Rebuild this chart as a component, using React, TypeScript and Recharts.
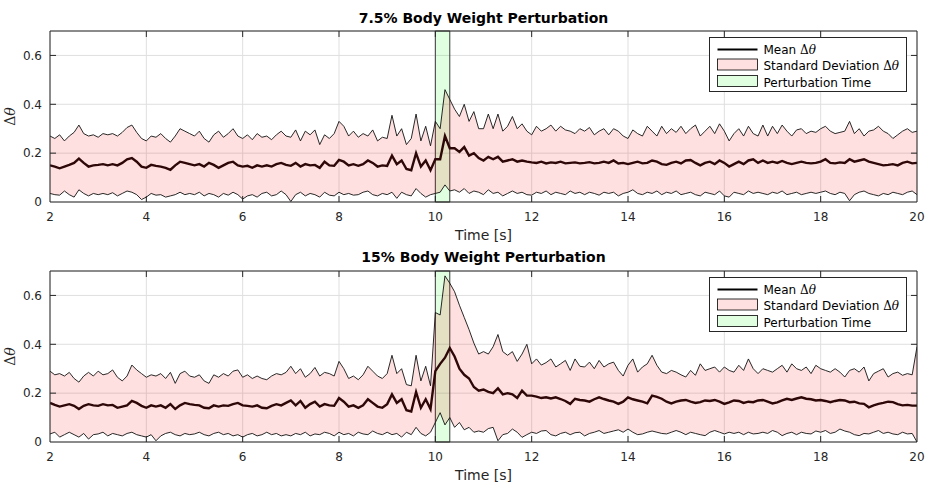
import React from 'react';
import {
  ComposedChart,
  Area,
  Line,
  XAxis,
  YAxis,
  CartesianGrid,
  ReferenceArea,
  ReferenceLine,
} from 'recharts';

// ---------- data ----------
const X_TICKS = [2, 4, 6, 8, 10, 12, 14, 16, 18, 20];
const Y_TICKS = [0, 0.2, 0.4, 0.6];
const PERTURBATION = [10, 10.3];
const TITLES = ['7.5% Body Weight Perturbation', '15% Body Weight Perturbation'];
const X_LABEL = 'Time [s]';
const LEGEND_LABELS = ['Mean ', 'Standard Deviation ', 'Perturbation Time'];

// sample times: 2.0 s to 20.0 s, one sample every 0.1 s
const T: number[] = Array.from({ length: 181 }, (_, i) => Math.round(20 + i) / 10);

// 7.5 % body weight — upper edge (mean + sd)
const HI_75 = [
  0.27, 0.26, 0.275, 0.25, 0.27, 0.285, 0.315, 0.28, 0.27, 0.275,
  0.265, 0.28, 0.275, 0.28, 0.27, 0.285, 0.305, 0.315, 0.285, 0.26,
  0.25, 0.27, 0.265, 0.28, 0.26, 0.245, 0.27, 0.30, 0.29, 0.28,
  0.27, 0.29, 0.26, 0.245, 0.275, 0.29, 0.265, 0.28, 0.30, 0.27,
  0.26, 0.275, 0.255, 0.28, 0.265, 0.27, 0.255, 0.275, 0.29, 0.27,
  0.265, 0.295, 0.25, 0.29, 0.275, 0.295, 0.235, 0.275, 0.26, 0.28,
  0.33, 0.31, 0.27, 0.29, 0.265, 0.28, 0.27, 0.295, 0.25, 0.265,
  0.26, 0.355, 0.27, 0.30, 0.235, 0.26, 0.36, 0.25, 0.31, 0.23,
  0.33, 0.30, 0.46, 0.42, 0.38, 0.35, 0.40, 0.33, 0.37, 0.30,
  0.30, 0.36, 0.30, 0.36, 0.29, 0.31, 0.35, 0.30, 0.32, 0.29,
  0.275, 0.31, 0.29, 0.30, 0.315, 0.29, 0.31, 0.295, 0.29, 0.28,
  0.30, 0.29, 0.305, 0.275, 0.29, 0.30, 0.275, 0.30, 0.29, 0.27,
  0.26, 0.295, 0.28, 0.27, 0.31, 0.29, 0.27, 0.31, 0.28, 0.30,
  0.285, 0.31, 0.28, 0.30, 0.315, 0.27, 0.29, 0.31, 0.28, 0.32,
  0.29, 0.25, 0.28, 0.30, 0.27, 0.31, 0.28, 0.27, 0.315, 0.27,
  0.31, 0.28, 0.315, 0.29, 0.27, 0.295, 0.30, 0.28, 0.29, 0.285,
  0.30, 0.31, 0.29, 0.28, 0.285, 0.29, 0.33, 0.28, 0.30, 0.27,
  0.29, 0.295, 0.31, 0.29, 0.28, 0.26, 0.275, 0.29, 0.30, 0.285,
  0.29,
];

// 7.5 % body weight — mean
const MEAN_75 = [
  0.150, 0.145, 0.138, 0.145, 0.152, 0.160, 0.178, 0.160, 0.145, 0.150,
  0.152, 0.155, 0.150, 0.155, 0.150, 0.160, 0.175, 0.180, 0.165, 0.145,
  0.140, 0.152, 0.148, 0.145, 0.140, 0.132, 0.150, 0.165, 0.160, 0.155,
  0.150, 0.155, 0.145, 0.160, 0.152, 0.140, 0.150, 0.160, 0.165, 0.150,
  0.145, 0.148, 0.140, 0.150, 0.145, 0.150, 0.145, 0.155, 0.160, 0.152,
  0.148, 0.160, 0.145, 0.155, 0.150, 0.152, 0.140, 0.165, 0.150, 0.148,
  0.172, 0.165, 0.150, 0.155, 0.148, 0.155, 0.170, 0.160, 0.145, 0.150,
  0.148, 0.190, 0.155, 0.170, 0.135, 0.130, 0.200, 0.145, 0.170, 0.130,
  0.175, 0.175, 0.270, 0.220, 0.220, 0.205, 0.225, 0.190, 0.200, 0.180,
  0.170, 0.185, 0.175, 0.185, 0.165, 0.170, 0.175, 0.165, 0.170, 0.165,
  0.162, 0.160, 0.165, 0.158, 0.162, 0.160, 0.165, 0.158, 0.160, 0.162,
  0.158, 0.160, 0.163, 0.158, 0.160, 0.165, 0.160, 0.170, 0.158, 0.160,
  0.155, 0.160, 0.165, 0.158, 0.160, 0.170, 0.165, 0.155, 0.152, 0.160,
  0.165, 0.158, 0.170, 0.172, 0.160, 0.150, 0.160, 0.165, 0.155, 0.170,
  0.160, 0.145, 0.155, 0.165, 0.155, 0.170, 0.175, 0.160, 0.170, 0.160,
  0.165, 0.160, 0.168, 0.160, 0.155, 0.160, 0.165, 0.160, 0.158, 0.160,
  0.165, 0.175, 0.160, 0.158, 0.162, 0.160, 0.175, 0.165, 0.170, 0.175,
  0.165, 0.160, 0.155, 0.150, 0.152, 0.155, 0.150, 0.160, 0.165, 0.158,
  0.160,
];

// 7.5 % body weight — lower edge (mean - sd)
const LO_75 = [
  0.035, 0.030, 0.028, 0.045, 0.030, 0.020, 0.050, 0.035, 0.025, 0.035,
  0.030, 0.035, 0.030, 0.038, 0.025, 0.035, 0.045, 0.040, 0.030, 0.010,
  0.020, 0.035, 0.028, 0.030, 0.020, 0.025, 0.030, 0.040, 0.030, 0.035,
  0.030, 0.040, 0.025, 0.035, 0.030, 0.020, 0.035, 0.028, 0.040, 0.030,
  0.012, 0.025, 0.030, 0.020, 0.035, 0.040, 0.025, 0.030, 0.045, 0.030,
  0.002, 0.030, 0.040, 0.025, 0.035, 0.030, 0.020, 0.040, 0.028, 0.025,
  0.040, 0.030, 0.035, 0.028, 0.030, 0.040, 0.045, 0.030, 0.025, 0.035,
  0.030, 0.040, 0.015, 0.040, 0.030, 0.025, 0.055, 0.035, 0.020, 0.030,
  0.035, 0.040, 0.070, 0.045, 0.050, 0.040, 0.055, 0.035, 0.045, 0.040,
  0.030, 0.050, 0.035, 0.040, 0.025, 0.035, 0.045, 0.035, 0.040, 0.030,
  0.028, 0.040, 0.035, 0.045, 0.030, 0.040, 0.035, 0.030, 0.045, 0.035,
  0.040, 0.030, 0.040, 0.035, 0.028, 0.040, 0.035, 0.040, 0.025, 0.035,
  0.040, 0.050, 0.035, 0.030, 0.040, 0.035, 0.045, 0.030, 0.040, 0.035,
  0.045, 0.030, 0.035, 0.040, 0.030, 0.025, 0.040, 0.035, 0.030, 0.045,
  0.025, 0.020, 0.040, 0.035, 0.030, 0.045, 0.035, 0.040, 0.035, 0.030,
  0.040, 0.035, 0.045, 0.030, 0.035, 0.040, 0.030, 0.035, 0.040, 0.035,
  0.040, 0.045, 0.035, 0.030, 0.040, 0.035, 0.005, 0.030, 0.040, 0.045,
  0.035, 0.030, 0.025, 0.035, 0.030, 0.040, 0.035, 0.030, 0.040, 0.045,
  0.030,
];

// 15 % body weight — upper edge
const HI_15 = [
  0.29, 0.275, 0.28, 0.27, 0.285, 0.26, 0.245, 0.27, 0.285, 0.27,
  0.29, 0.275, 0.28, 0.295, 0.265, 0.25, 0.27, 0.315, 0.295, 0.28,
  0.265, 0.275, 0.27, 0.28, 0.26, 0.285, 0.24, 0.28, 0.29, 0.27,
  0.265, 0.275, 0.25, 0.24, 0.275, 0.265, 0.28, 0.27, 0.29, 0.295,
  0.265, 0.275, 0.26, 0.27, 0.26, 0.255, 0.27, 0.28, 0.275, 0.285,
  0.31, 0.28, 0.30, 0.265, 0.28, 0.305, 0.27, 0.285, 0.28, 0.27,
  0.33, 0.30, 0.26, 0.27, 0.255, 0.275, 0.31, 0.29, 0.27, 0.26,
  0.28, 0.355, 0.28, 0.30, 0.235, 0.23, 0.355, 0.25, 0.31, 0.23,
  0.53, 0.52, 0.68, 0.65, 0.615, 0.56, 0.51, 0.46, 0.405, 0.36,
  0.37, 0.36, 0.39, 0.44, 0.37, 0.355, 0.37, 0.33, 0.36, 0.40,
  0.32, 0.34, 0.315, 0.325, 0.34, 0.307, 0.32, 0.334, 0.293, 0.34,
  0.31, 0.307, 0.327, 0.30, 0.334, 0.307, 0.32, 0.327, 0.293, 0.27,
  0.314, 0.34, 0.286, 0.307, 0.32, 0.355, 0.314, 0.286, 0.28, 0.293,
  0.286, 0.275, 0.266, 0.293, 0.273, 0.32, 0.293, 0.30, 0.307, 0.286,
  0.307, 0.293, 0.286, 0.314, 0.293, 0.34, 0.30, 0.28, 0.30, 0.293,
  0.286, 0.30, 0.314, 0.286, 0.32, 0.30, 0.293, 0.307, 0.28, 0.314,
  0.30, 0.293, 0.286, 0.30, 0.286, 0.266, 0.293, 0.30, 0.286, 0.307,
  0.25, 0.28, 0.29, 0.30, 0.266, 0.28, 0.286, 0.273, 0.28, 0.275,
  0.39,
];

// 15 % body weight — mean
const MEAN_15 = [
  0.160, 0.152, 0.145, 0.150, 0.155, 0.148, 0.135, 0.148, 0.155, 0.150,
  0.148, 0.155, 0.150, 0.152, 0.140, 0.145, 0.150, 0.168, 0.160, 0.148,
  0.140, 0.150, 0.145, 0.150, 0.140, 0.155, 0.135, 0.150, 0.160, 0.155,
  0.152, 0.150, 0.140, 0.138, 0.150, 0.145, 0.150, 0.148, 0.155, 0.160,
  0.150, 0.148, 0.145, 0.150, 0.140, 0.138, 0.148, 0.155, 0.150, 0.160,
  0.170, 0.150, 0.168, 0.140, 0.155, 0.165, 0.145, 0.155, 0.150, 0.148,
  0.180, 0.165, 0.145, 0.150, 0.140, 0.150, 0.175, 0.160, 0.145, 0.140,
  0.155, 0.195, 0.160, 0.175, 0.130, 0.125, 0.205, 0.140, 0.175, 0.135,
  0.290, 0.320, 0.345, 0.385, 0.350, 0.300, 0.275, 0.260, 0.225, 0.210,
  0.215, 0.205, 0.200, 0.220, 0.195, 0.200, 0.195, 0.180, 0.210, 0.190,
  0.190, 0.186, 0.180, 0.183, 0.178, 0.183, 0.176, 0.168, 0.156, 0.177,
  0.172, 0.170, 0.165, 0.175, 0.183, 0.176, 0.170, 0.165, 0.156, 0.165,
  0.183, 0.175, 0.170, 0.165, 0.158, 0.190, 0.185, 0.177, 0.165, 0.158,
  0.165, 0.170, 0.172, 0.165, 0.160, 0.163, 0.170, 0.168, 0.172, 0.165,
  0.156, 0.162, 0.170, 0.168, 0.160, 0.165, 0.163, 0.170, 0.172, 0.165,
  0.158, 0.162, 0.170, 0.177, 0.172, 0.178, 0.183, 0.177, 0.175, 0.170,
  0.172, 0.168, 0.163, 0.168, 0.172, 0.170, 0.163, 0.165, 0.158, 0.156,
  0.142, 0.150, 0.156, 0.160, 0.165, 0.163, 0.155, 0.150, 0.152, 0.149,
  0.149,
];

// 15 % body weight — lower edge
const LO_15 = [
  0.033, 0.040, 0.020, 0.030, 0.040, 0.030, 0.020, 0.035, 0.012, 0.030,
  0.033, 0.040, 0.025, 0.035, 0.030, 0.025, 0.035, 0.040, 0.030, 0.025,
  0.020, 0.030, 0.005, 0.025, 0.035, 0.040, 0.030, 0.025, 0.035, 0.030,
  0.033, 0.040, 0.030, 0.025, 0.035, 0.040, 0.030, 0.035, 0.025, 0.030,
  0.020, 0.030, 0.035, 0.025, 0.030, 0.040, 0.030, 0.035, 0.025, 0.030,
  0.025, 0.035, 0.030, 0.040, 0.025, 0.033, 0.030, 0.040, 0.035, 0.025,
  0.040, 0.030, 0.035, 0.025, 0.040, 0.033, 0.030, 0.045, 0.035, 0.030,
  0.040, 0.030, 0.035, 0.020, 0.040, 0.030, 0.060, 0.035, 0.025, 0.040,
  0.080, 0.120, 0.070, 0.100, 0.060, 0.080, 0.050, 0.060, 0.040, 0.045,
  0.040, 0.055, 0.060, 0.005, 0.030, 0.035, 0.053, 0.040, 0.019, 0.030,
  0.040, 0.035, 0.045, 0.047, 0.030, 0.025, 0.035, 0.040, 0.030, 0.038,
  0.040, 0.025, 0.035, 0.040, 0.047, 0.035, 0.040, 0.045, 0.050, 0.040,
  0.053, 0.040, 0.030, 0.033, 0.040, 0.045, 0.040, 0.035, 0.033, 0.040,
  0.047, 0.040, 0.030, 0.040, 0.035, 0.030, 0.026, 0.040, 0.047, 0.040,
  0.033, 0.040, 0.035, 0.040, 0.030, 0.040, 0.033, 0.035, 0.040, 0.035,
  0.047, 0.040, 0.026, 0.035, 0.040, 0.030, 0.040, 0.035, 0.033, 0.045,
  0.040, 0.047, 0.035, 0.040, 0.053, 0.045, 0.040, 0.030, 0.026, 0.035,
  0.033, 0.040, 0.047, 0.035, 0.040, 0.033, 0.030, 0.040, 0.033, 0.035,
  0.000,
];

// ---------- styling ----------
const FONT = "'DejaVu Sans', 'Noto Sans', sans-serif";
const SERIF = "'DejaVu Serif', 'Liberation Serif', serif";
const AXIS = '#262626';
const W = 931;
const PANEL_H = 240;
const PLOT_LEFT = 50;
const PLOT_RIGHT = 917;
const PLOT_TOP = 31;
const PLOT_BOTTOM = 202;

type Row = { t: number; lo: number; hi: number; mean: number };

function buildRows(hi: number[], mean: number[], lo: number[]): Row[] {
  return T.map((t, i) => ({ t, lo: lo[i], hi: hi[i], mean: mean[i] }));
}

function Panel({ hi, mean, lo }: { hi: number[]; mean: number[]; lo: number[] }) {
  const rows = buildRows(hi, mean, lo);
  const xTickLen = 0.125;
  const yTickLen = 0.0245;
  return (
    <ComposedChart
      width={W}
      height={PANEL_H}
      data={rows}
      margin={{ top: PLOT_TOP, right: W - PLOT_RIGHT, bottom: PANEL_H - PLOT_BOTTOM - 25, left: PLOT_LEFT - 40 }}
    >
      <CartesianGrid stroke="#dfdfdf" strokeWidth={1} />
      <XAxis
        dataKey="t"
        type="number"
        domain={[2, 20]}
        ticks={X_TICKS}
        tickLine={false}
        tickSize={6}
        tickMargin={4}
        height={25}
        axisLine={{ stroke: AXIS }}
        tick={{ fontSize: 12, fill: AXIS, fontFamily: FONT }}
        allowDataOverflow
      />
      <YAxis
        type="number"
        domain={[0, 0.7]}
        ticks={Y_TICKS}
        tickLine={false}
        width={40}
        axisLine={{ stroke: AXIS }}
        tick={{ fontSize: 12, fill: AXIS, fontFamily: FONT }}
        tickFormatter={(v: number) => (v === 0 ? '0' : v.toFixed(1))}
        allowDataOverflow
      />
      <ReferenceArea
        x1={PERTURBATION[0]}
        x2={PERTURBATION[1]}
        y1={0}
        y2={0.7}
        fill="#00ff00"
        fillOpacity={0.12}
        stroke="#3a3a3a"
        strokeWidth={1}
      />
      <Area
        dataKey={(d: Row) => [d.lo, d.hi]}
        type="linear"
        fill="#ff0000"
        fillOpacity={0.12}
        stroke="none"
        isAnimationActive={false}
      />
      <Line dataKey="hi" type="linear" stroke="#111" strokeWidth={0.9} dot={false} isAnimationActive={false} />
      <Line dataKey="lo" type="linear" stroke="#111" strokeWidth={0.9} dot={false} isAnimationActive={false} />
      <Line dataKey="mean" type="linear" stroke="#2e0808" strokeWidth={2.4} dot={false} isAnimationActive={false} />
      <ReferenceLine y={0.7} stroke={AXIS} strokeWidth={1} />
      <ReferenceLine x={20} stroke={AXIS} strokeWidth={1} />
      {X_TICKS.slice(1, -1).map((x) => (
        <ReferenceLine key={'b' + x} segment={[{ x, y: 0 }, { x, y: yTickLen }]} stroke={AXIS} />
      ))}
      {X_TICKS.slice(1, -1).map((x) => (
        <ReferenceLine key={'t' + x} segment={[{ x, y: 0.7 }, { x, y: 0.7 - yTickLen }]} stroke={AXIS} />
      ))}
      {Y_TICKS.slice(1).map((y) => (
        <ReferenceLine key={'l' + y} segment={[{ x: 2, y }, { x: 2 + xTickLen, y }]} stroke={AXIS} />
      ))}
      {Y_TICKS.slice(1).map((y) => (
        <ReferenceLine key={'r' + y} segment={[{ x: 20, y }, { x: 20 - xTickLen, y }]} stroke={AXIS} />
      ))}
    </ComposedChart>
  );
}

function DeltaTheta() {
  return (
    <>
      <tspan fontFamily={SERIF}>Δ</tspan>
      <tspan fontFamily={SERIF} fontStyle="italic">θ</tspan>
    </>
  );
}

function Legend({ top }: { top: number }) {
  return (
    <g transform={`translate(709.5, ${top + 0.5})`}>
      <rect x={0} y={0} width={197} height={54} fill="#fff" stroke={AXIS} strokeWidth={1} />
      <line x1={8} y1={12} x2={48} y2={12} stroke="#000" strokeWidth={2.2} />
      <rect x={8} y={21.5} width={40} height={11} fill="#ffe0e0" stroke="#000" strokeWidth={0.8} />
      <rect x={8} y={38} width={40} height={11} fill="#e0ffe0" stroke="#000" strokeWidth={0.8} />
      <text x={54} y={16} fontSize={12} fontFamily={FONT} fill="#000">
        {LEGEND_LABELS[0]}
        <DeltaTheta />
      </text>
      <text x={54} y={32.5} fontSize={12} fontFamily={FONT} fill="#000">
        {LEGEND_LABELS[1]}
        <DeltaTheta />
      </text>
      <text x={54} y={49} fontSize={12} fontFamily={FONT} fill="#000">
        {LEGEND_LABELS[2]}
      </text>
    </g>
  );
}

function Overlay() {
  const cx = (PLOT_LEFT + PLOT_RIGHT) / 2;
  const offsets = [0, PANEL_H];
  return (
    <svg
      width={W}
      height={487}
      style={{ position: 'absolute', left: 0, top: 0, pointerEvents: 'none' }}
    >
      {offsets.map((off, i) => (
        <g key={i}>
          <text x={cx} y={off + 23 - i} textAnchor="middle" fontSize={14} fontWeight="bold" fontFamily={FONT} fill="#000">
            {TITLES[i]}
          </text>
          <text x={cx} y={off + 239.5} textAnchor="middle" fontSize={14} fontFamily={FONT} fill={AXIS}>
            {X_LABEL}
          </text>
          <text
            x={15}
            y={off + (PLOT_TOP + PLOT_BOTTOM) / 2}
            textAnchor="middle"
            fontSize={14}
            fill={AXIS}
            transform={`rotate(-90, 15, ${off + (PLOT_TOP + PLOT_BOTTOM) / 2})`}
          >
            <DeltaTheta />
          </text>
          <Legend top={off + 37} />
        </g>
      ))}
    </svg>
  );
}

export default function App() {
  return (
    <div style={{ position: 'absolute', left: 0, top: 0, width: W, height: 487, background: '#fff' }}>
      <div style={{ position: 'absolute', left: 0, top: 0 }}>
        <Panel hi={HI_75} mean={MEAN_75} lo={LO_75} />
      </div>
      <div style={{ position: 'absolute', left: 0, top: PANEL_H }}>
        <Panel hi={HI_15} mean={MEAN_15} lo={LO_15} />
      </div>
      <Overlay />
    </div>
  );
}
